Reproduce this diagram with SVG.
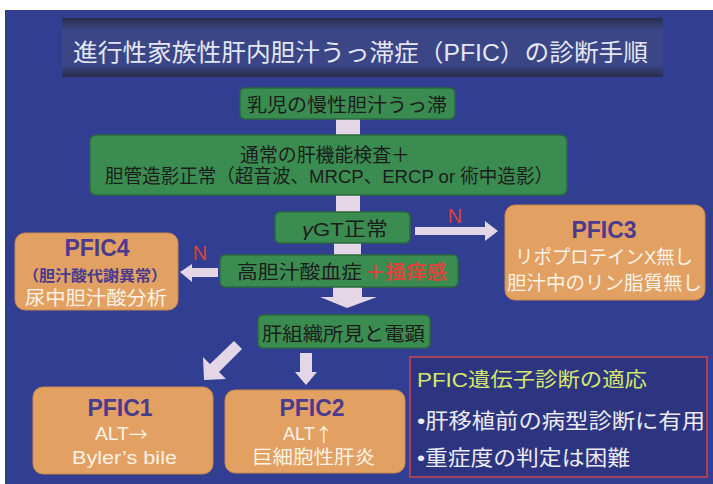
<svg xmlns="http://www.w3.org/2000/svg" width="713" height="484" viewBox="0 0 713 484">
<defs>
<linearGradient id="tb" x1="0" y1="0" x2="0" y2="1">
<stop offset="0" stop-color="#2a2c4a"/>
<stop offset="0.2" stop-color="#3b4687"/>
<stop offset="0.8" stop-color="#3b4687"/>
<stop offset="1" stop-color="#2a2c4a"/>
</linearGradient>
<style>
text{font-family:"Liberation Sans","Noto Sans CJK JP",sans-serif;dominant-baseline:central;}
.g{fill:#3b8c50;stroke:#2b6a3c;stroke-width:1.5;}
.o{fill:#e2a062;stroke:#c98848;stroke-width:1;}
.k{fill:#1c1c1c;font-size:19px;}
.pt{fill:#4b3a8e;font-size:23px;font-weight:bold;}
.w{fill:#fbf3e6;font-size:19px;}
.ar{fill:#e4d6e6;}
.n{fill:#d9443a;font-size:20px;}
</style>
</defs>
<rect x="0" y="0" width="713" height="484" fill="#ffffff"/>
<rect x="5" y="10" width="708" height="474" fill="#313e92"/>

<g id="title">
<rect x="62" y="18" width="601" height="59" fill="url(#tb)"/>
<text x="73" y="52" fill="#e4e6f2" font-size="24" textLength="575" lengthAdjust="spacingAndGlyphs">進行性家族性肝内胆汁うっ滞症（PFIC）の診断手順</text>
</g>

<g id="connectors">
<rect class="ar" x="336" y="119" width="24" height="16"/>
<rect class="ar" x="336" y="195" width="24" height="17"/>
<rect class="ar" x="334" y="243" width="27" height="12"/>
<path class="ar" d="M333 287 H362 V297 H377 L347 308 L320 297 H333 Z"/>
<path class="ar" d="M415 227 H485 V221 L498 231 L485 241 V235 H415 Z"/>
<path class="ar" d="M218 268 H192 V264 L180 272 L192 282 V277 H218 Z"/>
<path class="ar" d="M242 349 L234 341 L210 364 L203 357 L204 380 L226 379 L219 372 Z"/>
<path class="ar" d="M300 353 H312 V372 H317 L306 385 L295 372 H300 Z"/>
<text class="n" x="455" y="216" text-anchor="middle">N</text>
<text class="n" x="200" y="253" text-anchor="middle">N</text>
</g>

<g id="n1">
<rect class="g" x="240" y="88" width="215" height="31" rx="5"/>
<text class="k" x="247" y="105" textLength="200" lengthAdjust="spacingAndGlyphs">乳児の慢性胆汁うっ滞</text>
</g>

<g id="n2">
<rect class="g" x="90" y="135" width="477" height="60" rx="6"/>
<text class="k" x="240" y="155" textLength="170" lengthAdjust="spacingAndGlyphs">通常の肝機能検査＋</text>
<text class="k" x="105" y="176" textLength="448" lengthAdjust="spacingAndGlyphs">胆管造影正常（超音波、MRCP、ERCP or 術中造影）</text>
</g>

<g id="n3">
<rect class="g" x="275" y="212" width="135" height="31" rx="5"/>
<text class="k" x="302" y="229" textLength="86" lengthAdjust="spacingAndGlyphs"><tspan font-style="italic">γ</tspan>GT正常</text>
</g>

<g id="n4">
<rect class="g" x="220" y="255" width="238" height="32" rx="5"/>
<text class="k" x="237" y="272" textLength="125" lengthAdjust="spacingAndGlyphs">高胆汁酸血症</text>
<text x="365" y="272" fill="#d9473c" font-size="19" font-weight="bold" textLength="82" lengthAdjust="spacingAndGlyphs">＋掻痒感</text>
</g>

<g id="n5">
<rect class="g" x="258" y="315" width="172" height="33" rx="5"/>
<text class="k" x="262" y="334" textLength="163" lengthAdjust="spacingAndGlyphs">肝組織所見と電顕</text>
</g>

<g id="pfic3">
<rect class="o" x="505" y="205" width="200" height="95" rx="10"/>
<text class="pt" x="604" y="230" text-anchor="middle">PFIC3</text>
<text class="w" x="515" y="257" textLength="178" lengthAdjust="spacingAndGlyphs">リポプロテインX無し</text>
<text class="w" x="507" y="283" textLength="195" lengthAdjust="spacingAndGlyphs">胆汁中のリン脂質無し</text>
</g>

<g id="pfic4">
<rect class="o" x="15" y="233" width="163" height="77" rx="10"/>
<text class="pt" x="97" y="248" text-anchor="middle">PFIC4</text>
<text x="23" y="275" fill="#4b3a8e" font-size="15" font-weight="bold" textLength="144" lengthAdjust="spacingAndGlyphs">（胆汁酸代謝異常）</text>
<text class="w" x="25" y="298" textLength="142" lengthAdjust="spacingAndGlyphs">尿中胆汁酸分析</text>
</g>

<g id="pfic1">
<rect class="o" x="33" y="387" width="180" height="87" rx="10"/>
<text class="pt" x="120" y="408" text-anchor="middle">PFIC1</text>
<text class="w" x="95" y="433" textLength="53" lengthAdjust="spacingAndGlyphs">ALT<tspan font-family="Noto Sans CJK JP, sans-serif">→</tspan></text>
<text class="w" x="72" y="457" textLength="105" lengthAdjust="spacingAndGlyphs">Byler’s bile</text>
</g>

<g id="pfic2">
<rect class="o" x="225" y="390" width="180" height="83" rx="10"/>
<text class="pt" x="312" y="408" text-anchor="middle">PFIC2</text>
<text class="w" x="283" y="433" textLength="50" lengthAdjust="spacingAndGlyphs">ALT<tspan font-family="Noto Sans CJK JP, sans-serif">↑</tspan></text>
<text class="w" x="252" y="457" textLength="123" lengthAdjust="spacingAndGlyphs">巨細胞性肝炎</text>
</g>

<g id="genetic">
<rect x="410" y="357" width="297" height="120" fill="#2d3580" stroke="#c9474a" stroke-width="1.5"/>
<text x="417" y="380" fill="#d6e86c" font-size="20" textLength="230" lengthAdjust="spacingAndGlyphs">PFIC遺伝子診断の適応</text>
<text x="417" y="420" fill="#eceaf2" font-size="21" textLength="288" lengthAdjust="spacingAndGlyphs">•肝移植前の病型診断に有用</text>
<text x="417" y="457" fill="#eceaf2" font-size="21" textLength="213" lengthAdjust="spacingAndGlyphs">•重症度の判定は困難</text>
</g>
</svg>
